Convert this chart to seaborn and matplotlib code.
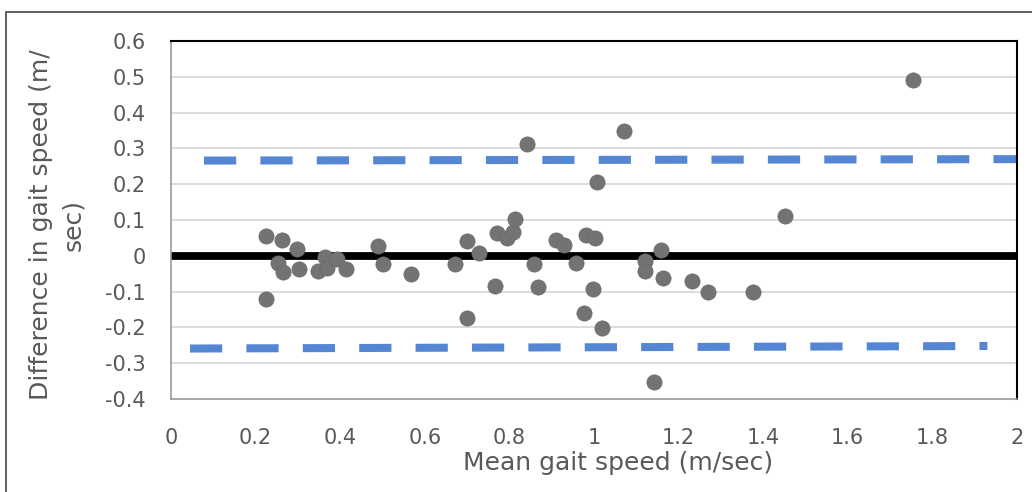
import numpy as np
import pandas as pd
import matplotlib
matplotlib.use("Agg")
import matplotlib.pyplot as plt
import seaborn as sns
from matplotlib.patches import Rectangle

sns.set_style("white")
plt.rcParams["font.family"] = ["DejaVu Sans"]

# mean gait speed and difference between the two measures
mean_speed = [0.224, 0.225, 0.254, 0.262, 0.264, 0.297, 0.302, 0.348, 0.364, 0.368,
              0.392, 0.414, 0.489, 0.500, 0.567, 0.671, 0.700, 0.700, 0.727, 0.765,
              0.770, 0.795, 0.808, 0.813, 0.841, 0.857, 0.868, 0.909, 0.928, 0.957,
              0.977, 0.980, 0.997, 1.002, 1.006, 1.018, 1.070, 1.121, 1.121, 1.142,
              1.158, 1.164, 1.231, 1.269, 1.375, 1.452, 1.754]
diff_speed = [0.054, -0.121, -0.019, 0.045, -0.046, 0.019, -0.037, -0.042, -0.002, -0.034,
              -0.009, -0.036, 0.026, -0.022, -0.050, -0.024, 0.040, -0.175, 0.008, -0.083,
              0.063, 0.049, 0.066, 0.103, 0.312, -0.024, -0.088, 0.045, 0.029, -0.019,
              -0.159, 0.057, -0.094, 0.050, 0.206, -0.203, 0.349, -0.014, -0.043, -0.353,
              0.015, -0.061, -0.070, -0.100, -0.100, 0.110, 0.490]

# limits of agreement (start / end)
upper_x = [0.078, 2.0]
upper_y = [0.266, 0.270]
lower_x = [0.045, 1.93]
lower_y = [-0.259, -0.252]

df = pd.DataFrame({"mean": mean_speed, "diff": diff_speed})

fig = plt.figure(figsize=(10.32, 4.92), dpi=100)
ax = fig.add_axes([171 / 1032, 1 - 399 / 492, 846 / 1032, 358 / 492])

blue = "#5586d3"
ax.plot(upper_x, upper_y, color=blue, lw=5.8, dashes=(4.0, 3.0),
        solid_capstyle="butt", dash_capstyle="butt", zorder=2)
ax.plot(lower_x, lower_y, color=blue, lw=5.8, dashes=(4.0, 3.0),
        solid_capstyle="butt", dash_capstyle="butt", zorder=2)
ax.axhline(0, color="black", lw=5.6, zorder=2)

sns.scatterplot(data=df, x="mean", y="diff", ax=ax, s=120, color="#737373",
                edgecolor="#6a6a6a", linewidth=0.5, zorder=3)

ax.set_xlim(0, 2)
ax.set_ylim(-0.4, 0.6)
ax.set_xticks(np.arange(0, 2.01, 0.2))
ax.set_xticklabels(["0", "0.2", "0.4", "0.6", "0.8", "1", "1.2", "1.4", "1.6", "1.8", "2"])
ax.set_yticks(np.arange(-0.4, 0.61, 0.1))
ax.set_yticklabels(["-0.4", "-0.3", "-0.2", "-0.1", "0", "0.1", "0.2", "0.3", "0.4", "0.5", "0.6"])
ax.yaxis.grid(True, color="#d9d9d9", lw=1.3)
ax.set_axisbelow(True)
ax.tick_params(axis="both", length=0, labelsize=15, colors="#595959")
ax.tick_params(axis="x", pad=21)
ax.tick_params(axis="y", pad=18)

for side in ["top", "right"]:
    ax.spines[side].set_color("black")
    ax.spines[side].set_linewidth(1.5)
for side in ["left", "bottom"]:
    ax.spines[side].set_color("#9a9a9a")
    ax.spines[side].set_linewidth(1.2)

ax.set_xlabel("Mean gait speed (m/sec)", fontsize=18, color="#595959")
ax.xaxis.set_label_coords((618 - 171) / 846, (399 - 451) / 358)
ax.set_ylabel("Difference in gait speed (m/\nsec)", fontsize=18, color="#595959",
              linespacing=1.4)
ax.yaxis.set_label_coords((57 - 171) / 846, (399 - 225) / 358)
ax.yaxis.label.set_va("center")

fig.patches.append(Rectangle((6 / 1032, -0.02), 1.1, 1 - 12 / 492 + 0.02,
                             transform=fig.transFigure, fill=False,
                             edgecolor="#444444", lw=1.2))

fig.savefig("out.png", dpi=100)
